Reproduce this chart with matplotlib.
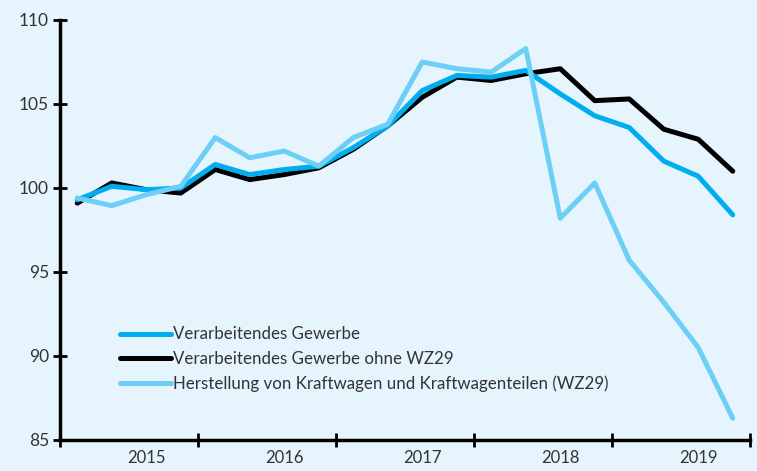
import matplotlib.pyplot as plt

# Quartalswerte 2015 Q1 bis 2019 Q4
jahre = ["2015", "2016", "2017", "2018", "2019"]
verarbeitend = [99.3, 100.1, 99.9, 100.0, 101.4, 100.8, 101.1, 101.3, 102.4, 103.7,
                105.8, 106.7, 106.6, 107.0, 105.6, 104.3, 103.6, 101.6, 100.7, 98.4]
ohne_wz29 = [99.1, 100.3, 99.9, 99.7, 101.1, 100.5, 100.8, 101.2, 102.3, 103.7,
             105.4, 106.6, 106.4, 106.8, 107.1, 105.2, 105.3, 103.5, 102.9, 101.0]
wz29 = [99.4, 98.95, 99.6, 100.1, 103.0, 101.8, 102.2, 101.3, 103.0, 103.8,
        107.5, 107.1, 106.9, 108.3, 98.2, 100.3, 95.7, 93.2, 90.5, 86.3]

hintergrund = "#E6F5FD"
plt.rcParams["font.family"] = ["Lato", "DejaVu Sans"]

fig = plt.figure(figsize=(7.57, 4.71), dpi=100, facecolor=hintergrund)
ax = fig.add_axes([60 / 757, 1 - 440 / 471, 690 / 757, 420 / 471], facecolor=hintergrund)

x = list(range(len(verarbeitend)))
ax.plot(x, verarbeitend, color="#00AEEF", lw=3.6, solid_capstyle="round",
        label="Verarbeitendes Gewerbe", zorder=3)
ax.plot(x, ohne_wz29, color="black", lw=3.6, solid_capstyle="round",
        label="Verarbeitendes Gewerbe ohne WZ29", zorder=2)
ax.plot(x, wz29, color="#6DCFF6", lw=3.6, solid_capstyle="round",
        label="Herstellung von Kraftwagen und Kraftwagenteilen (WZ29)", zorder=4)

ax.set_xlim(-0.5, len(x) - 0.5)
ax.set_ylim(85, 110)
ax.set_yticks([85, 90, 95, 100, 105, 110])

# Jahresgrenzen als Striche, Jahreszahlen darunter
ax.set_xticks([-0.5 + 4 * i for i in range(len(jahre) + 1)])
ax.set_xticklabels([])
ax.set_xticks([2 + 4 * i for i in range(len(jahre))], minor=True)
ax.set_xticklabels(jahre, minor=True)
ax.tick_params(axis="x", which="minor", length=0, pad=7, labelsize=12, labelcolor="#333333")
ax.tick_params(axis="x", which="major", direction="inout", length=10, width=2)
ax.tick_params(axis="y", direction="inout", length=10, width=2, pad=3,
               labelsize=12.5, labelcolor="#333333")

for s in ["top", "right"]:
    ax.spines[s].set_visible(False)
for s in ["left", "bottom"]:
    ax.spines[s].set_linewidth(2.5)

ax.legend(loc="lower left", bbox_to_anchor=(0.065, 0.078), frameon=False, fontsize=12.2,
          handlelength=3.0, handletextpad=0.15, labelspacing=0.5, labelcolor="#333333")

fig.savefig("out.png", dpi=100, facecolor=hintergrund)
